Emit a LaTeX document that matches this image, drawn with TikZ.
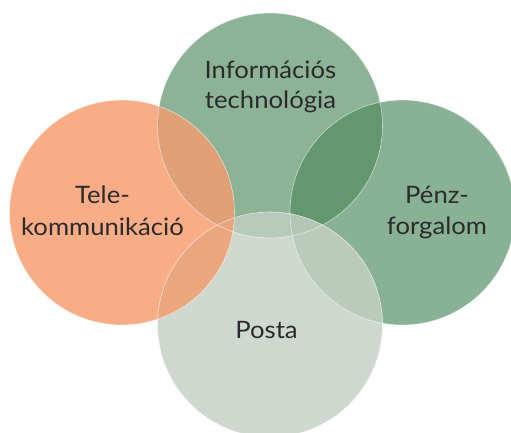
\documentclass[tikz,border=0pt]{standalone}
\usepackage{fontspec}
\setmainfont{Lato}[FakeStretch=1.07]
\definecolor{cOrange}{HTML}{F8AD87}
\definecolor{cTop}{HTML}{8DB397}
\definecolor{cRight}{HTML}{88B195}
\definecolor{cBottom}{HTML}{CFD8CF}
\definecolor{cOT}{HTML}{E0A077}
\definecolor{cOB}{HTML}{ECA77E}
\definecolor{cTR}{HTML}{63976F}
\definecolor{cTB}{HTML}{B8C9BA}
\definecolor{cRB}{HTML}{BACABB}
\definecolor{cTRB}{HTML}{B4C7B7}
\definecolor{cOTB}{HTML}{E9A47C}
\definecolor{cText}{HTML}{2B2B2B}
\tikzset{
  lbl/.style={font=\fontsize{24}{31}\selectfont, text=cText, align=center, inner sep=0pt},
  rim/.style={draw=white, draw opacity=0.6, line width=0.6pt}
}
\begin{document}
\begin{tikzpicture}[x=1pt,y=-1pt]
\useasboundingbox (0,0) rectangle (511,432);
\clip (0,0) rectangle (511,432);
\def\rr{112.5}
\coordinate (O) at (122,212.5);
\coordinate (T) at (270,125.5);
\coordinate (R) at (402.5,212.5);
\coordinate (B) at (270,324.5);
% base circles
\fill[cOrange] (O) circle (\rr);
\fill[cTop] (T) circle (\rr);
\fill[cRight] (R) circle (\rr);
\fill[cBottom] (B) circle (\rr);
% pairwise overlaps
\begin{scope}\clip (O) circle (\rr); \fill[cOT] (T) circle (\rr);\end{scope}
\begin{scope}\clip (O) circle (\rr); \fill[cOB] (B) circle (\rr);\end{scope}
\begin{scope}\clip (T) circle (\rr); \fill[cTR] (R) circle (\rr);\end{scope}
\begin{scope}\clip (T) circle (\rr); \fill[cTB] (B) circle (\rr);\end{scope}
\begin{scope}\clip (R) circle (\rr); \fill[cRB] (B) circle (\rr);\end{scope}
% triple overlaps
\begin{scope}\clip (T) circle (\rr); \clip (R) circle (\rr); \fill[cTRB] (B) circle (\rr);\end{scope}
\begin{scope}\clip (O) circle (\rr); \clip (T) circle (\rr); \fill[cOTB] (B) circle (\rr);\end{scope}
% rims
\draw[rim] (O) circle (\rr);
\draw[rim] (T) circle (\rr);
\draw[rim] (R) circle (\rr);
\draw[rim] (B) circle (\rr);
% labels
\node[lbl, anchor=base] (lt1) at (270.5,78) {Információs};
\node[lbl, anchor=base] (lt2) at (270.5,108) {technológia};
\node[lbl, anchor=base] (ll1) at (102.5,203) {Tele-};
\node[lbl, anchor=base] (ll2) at (102.5,235) {kommunikáció};
\node[lbl, anchor=base] (lr1) at (437,203) {Pénz-};
\node[lbl, anchor=base] (lr2) at (437,234) {forgalom};
\node[lbl, anchor=base] (lb) at (266.5,338) {Posta};
\end{tikzpicture}
\end{document}
